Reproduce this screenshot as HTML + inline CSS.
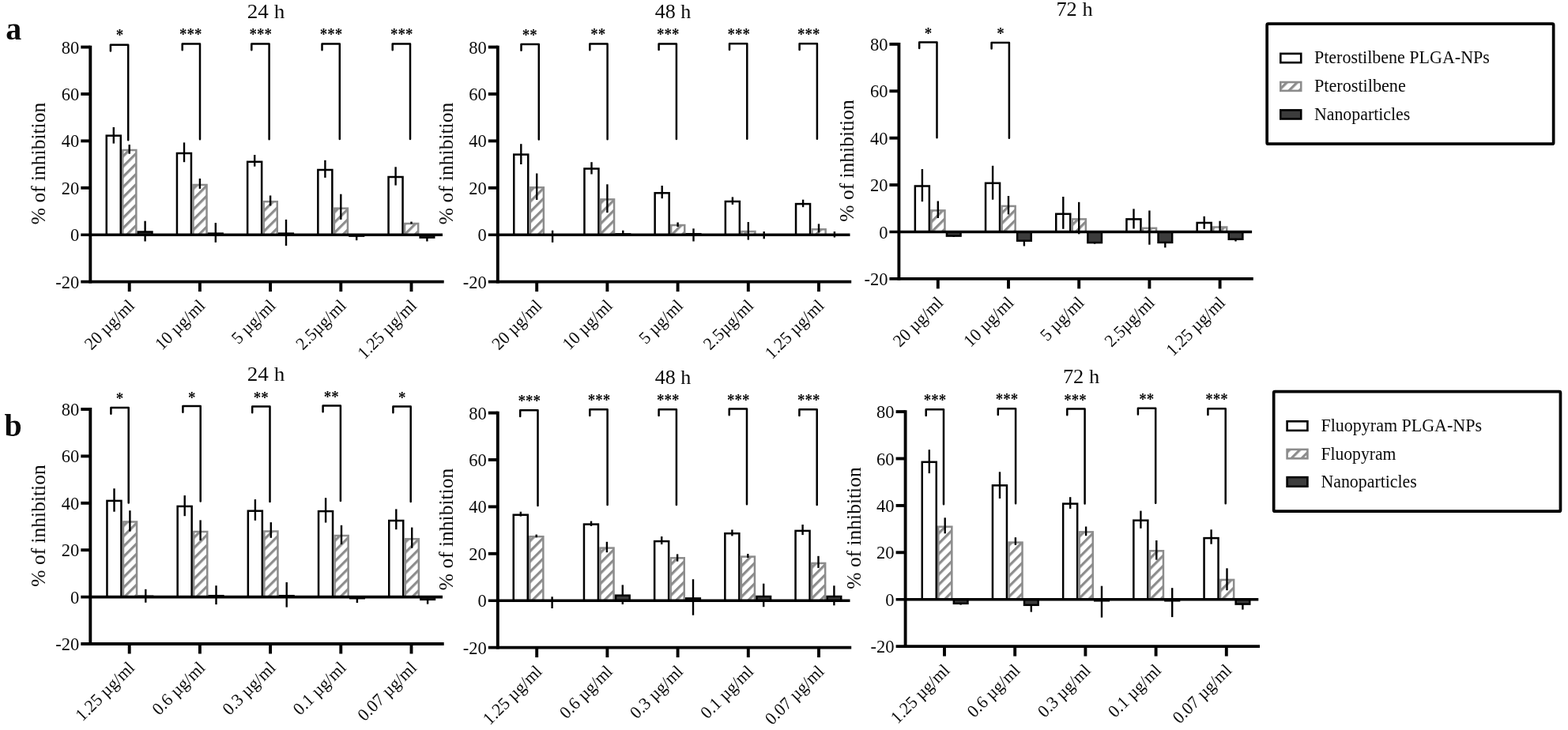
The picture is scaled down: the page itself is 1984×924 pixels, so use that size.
<!DOCTYPE html>
<html lang="en">
<head>
<meta charset="utf-8">
<title>Inhibition of Pterostilbene and Fluopyram PLGA-NPs</title>
<style>
html,body{margin:0;padding:0;background:#fff;}
body{width:1984px;height:924px;overflow:hidden;}
svg{display:block;filter:blur(0.45px);}
text{font-family:"Liberation Serif", "DejaVu Serif", serif;fill:#0a0a0a;}
</style>
</head>
<body>
<svg width="1984" height="924" viewBox="0 0 1984 924">
<defs>
<pattern id="hatch" patternUnits="userSpaceOnUse" width="9.2" height="9.2" patternTransform="rotate(-45)">
<rect x="0" y="0" width="9.2" height="9.2" fill="#fff"/>
<rect x="0" y="0" width="9.2" height="3.2" fill="#8c8c8c"/>
</pattern>
<pattern id="hatchL" patternUnits="userSpaceOnUse" width="9.2" height="9.2" patternTransform="rotate(-45)">
<rect x="0" y="0" width="9.2" height="9.2" fill="#fff"/>
<rect x="0" y="0" width="9.2" height="3.2" fill="#8c8c8c"/>
</pattern>
</defs>
<rect x="0" y="0" width="1984" height="924" fill="#fff"/>

<text x="7.2" y="50" font-size="40" font-weight="bold">a</text>
<text x="5.5" y="552" font-size="40" font-weight="bold">b</text>
<g>
<text x="336.5" y="23" font-size="25" text-anchor="middle" textLength="47.4" lengthAdjust="spacingAndGlyphs">24 h</text>
<text transform="translate(57 207) rotate(-90)" font-size="25.5" text-anchor="middle" textLength="154.4" lengthAdjust="spacingAndGlyphs">% of inhibition</text>
<rect x="134.75" y="171.7" width="18" height="125.5" fill="#fff" stroke="#000" stroke-width="2.5"/>
<line x1="143.8" y1="161" x2="143.8" y2="181.6" stroke="#000" stroke-width="2.4"/>
<rect x="155.25" y="190" width="17.1" height="107.2" fill="url(#hatch)" stroke="#8c8c8c" stroke-width="2.5"/>
<line x1="163.7" y1="183.1" x2="163.7" y2="194.7" stroke="#000" stroke-width="2.4"/>
<line x1="183.6" y1="279.7" x2="183.6" y2="305.5" stroke="#000" stroke-width="2.4"/>
<rect x="174.85" y="293.5" width="17.6" height="3.7" fill="#3c3c3c" stroke="#000" stroke-width="2.5"/>
<rect x="223.95" y="194" width="18" height="103.2" fill="#fff" stroke="#000" stroke-width="2.5"/>
<line x1="233" y1="180.4" x2="233" y2="205.2" stroke="#000" stroke-width="2.4"/>
<rect x="244.45" y="234" width="17.1" height="63.2" fill="url(#hatch)" stroke="#8c8c8c" stroke-width="2.5"/>
<line x1="252.9" y1="226" x2="252.9" y2="238.9" stroke="#000" stroke-width="2.4"/>
<line x1="272.8" y1="282.1" x2="272.8" y2="306.8" stroke="#000" stroke-width="2.4"/>
<rect x="264.05" y="295.6" width="17.6" height="1.6" fill="#3c3c3c" stroke="#000" stroke-width="2.5"/>
<rect x="313.15" y="204.8" width="18" height="92.4" fill="#fff" stroke="#000" stroke-width="2.5"/>
<line x1="322.2" y1="196" x2="322.2" y2="210.7" stroke="#000" stroke-width="2.4"/>
<rect x="333.65" y="255.2" width="17.1" height="42" fill="url(#hatch)" stroke="#8c8c8c" stroke-width="2.5"/>
<line x1="342.1" y1="247.5" x2="342.1" y2="260.4" stroke="#000" stroke-width="2.4"/>
<line x1="362" y1="277.9" x2="362" y2="311" stroke="#000" stroke-width="2.4"/>
<rect x="353.25" y="295.6" width="17.6" height="1.6" fill="#3c3c3c" stroke="#000" stroke-width="2.5"/>
<rect x="402.35" y="215" width="18" height="82.2" fill="#fff" stroke="#000" stroke-width="2.5"/>
<line x1="411.4" y1="202.8" x2="411.4" y2="224.9" stroke="#000" stroke-width="2.4"/>
<rect x="422.85" y="263.7" width="17.1" height="33.5" fill="url(#hatch)" stroke="#8c8c8c" stroke-width="2.5"/>
<line x1="431.3" y1="245.7" x2="431.3" y2="277.9" stroke="#000" stroke-width="2.4"/>
<line x1="451.2" y1="297" x2="451.2" y2="304.2" stroke="#000" stroke-width="2.4"/>
<rect x="442.45" y="297.2" width="17.6" height="1.4" fill="#3c3c3c" stroke="#000" stroke-width="2.5"/>
<rect x="491.55" y="224" width="18" height="73.2" fill="#fff" stroke="#000" stroke-width="2.5"/>
<line x1="500.6" y1="211.3" x2="500.6" y2="234.6" stroke="#000" stroke-width="2.4"/>
<rect x="512.05" y="283" width="17.1" height="14.2" fill="url(#hatch)" stroke="#8c8c8c" stroke-width="2.5"/>
<line x1="520.5" y1="280.6" x2="520.5" y2="283.4" stroke="#000" stroke-width="2.4"/>
<line x1="540.4" y1="297" x2="540.4" y2="305.5" stroke="#000" stroke-width="2.4"/>
<rect x="531.65" y="297.2" width="17.6" height="3.4" fill="#3c3c3c" stroke="#000" stroke-width="2.5"/>
<line x1="102.3" y1="297.2" x2="560" y2="297.2" stroke="#000" stroke-width="3.6"/>
<line x1="114.3" y1="57.65" x2="114.3" y2="358.55" stroke="#000" stroke-width="3.9"/>
<line x1="102.3" y1="356.6" x2="561.7" y2="356.6" stroke="#000" stroke-width="3.9"/>
<line x1="102.3" y1="59.6" x2="114.3" y2="59.6" stroke="#000" stroke-width="3.9"/>
<text x="100.3" y="67.6" font-size="24" text-anchor="end" textLength="22.5" lengthAdjust="spacingAndGlyphs">80</text>
<line x1="102.3" y1="119" x2="114.3" y2="119" stroke="#000" stroke-width="3.9"/>
<text x="100.3" y="127" font-size="24" text-anchor="end" textLength="22.5" lengthAdjust="spacingAndGlyphs">60</text>
<line x1="102.3" y1="178.4" x2="114.3" y2="178.4" stroke="#000" stroke-width="3.9"/>
<text x="100.3" y="186.4" font-size="24" text-anchor="end" textLength="22.5" lengthAdjust="spacingAndGlyphs">40</text>
<line x1="102.3" y1="237.8" x2="114.3" y2="237.8" stroke="#000" stroke-width="3.9"/>
<text x="100.3" y="245.8" font-size="24" text-anchor="end" textLength="22.5" lengthAdjust="spacingAndGlyphs">20</text>
<text x="100.3" y="305.2" font-size="24" text-anchor="end" textLength="11.25" lengthAdjust="spacingAndGlyphs">0</text>
<text x="100.3" y="364.6" font-size="24" text-anchor="end" textLength="29.99" lengthAdjust="spacingAndGlyphs">-20</text>
<line x1="163.7" y1="356.6" x2="163.7" y2="369.1" stroke="#000" stroke-width="3.9"/>
<text transform="translate(171.6 388.2) rotate(-45)" font-size="22.2" text-anchor="end" textLength="78.97" lengthAdjust="spacingAndGlyphs">20 µg/ml</text>
<line x1="252.9" y1="356.6" x2="252.9" y2="369.1" stroke="#000" stroke-width="3.9"/>
<text transform="translate(260.8 388.2) rotate(-45)" font-size="22.2" text-anchor="end" textLength="78.97" lengthAdjust="spacingAndGlyphs">10 µg/ml</text>
<line x1="342.1" y1="356.6" x2="342.1" y2="369.1" stroke="#000" stroke-width="3.9"/>
<text transform="translate(350 388.2) rotate(-45)" font-size="22.2" text-anchor="end" textLength="68.18" lengthAdjust="spacingAndGlyphs">5 µg/ml</text>
<line x1="431.3" y1="356.6" x2="431.3" y2="369.1" stroke="#000" stroke-width="3.9"/>
<text transform="translate(439.2 388.2) rotate(-45)" font-size="22.2" text-anchor="end" textLength="78.97" lengthAdjust="spacingAndGlyphs">2.5µg/ml</text>
<line x1="520.5" y1="356.6" x2="520.5" y2="369.1" stroke="#000" stroke-width="3.9"/>
<text transform="translate(528.4 388.2) rotate(-45)" font-size="22.2" text-anchor="end" textLength="95.15" lengthAdjust="spacingAndGlyphs">1.25 µg/ml</text>
<path d="M139.9 64.4V56.7H162.2V177.3" fill="none" stroke="#000" stroke-width="2.5" stroke-linejoin="round" stroke-linecap="round"/>
<text x="151.45" y="50.9" font-size="22" font-weight="bold" text-anchor="middle" textLength="9.5" lengthAdjust="spacingAndGlyphs">*</text>
<path d="M230.7 63.3V55.6H253V176.2" fill="none" stroke="#000" stroke-width="2.5" stroke-linejoin="round" stroke-linecap="round"/>
<text x="241.25" y="49.6" font-size="22" font-weight="bold" text-anchor="middle" textLength="28.5" lengthAdjust="spacingAndGlyphs">***</text>
<path d="M318.3 63.3V55.6H340.6V176.2" fill="none" stroke="#000" stroke-width="2.5" stroke-linejoin="round" stroke-linecap="round"/>
<text x="329.75" y="49.6" font-size="22" font-weight="bold" text-anchor="middle" textLength="28.5" lengthAdjust="spacingAndGlyphs">***</text>
<path d="M407.5 63.2V55.5H429.8V176.1" fill="none" stroke="#000" stroke-width="2.5" stroke-linejoin="round" stroke-linecap="round"/>
<text x="418.95" y="49.6" font-size="22" font-weight="bold" text-anchor="middle" textLength="28.5" lengthAdjust="spacingAndGlyphs">***</text>
<path d="M496.7 63.2V55.5H519V176.1" fill="none" stroke="#000" stroke-width="2.5" stroke-linejoin="round" stroke-linecap="round"/>
<text x="508.15" y="49.6" font-size="22" font-weight="bold" text-anchor="middle" textLength="28.5" lengthAdjust="spacingAndGlyphs">***</text>
</g>
<g>
<text x="851.5" y="23" font-size="25" text-anchor="middle" textLength="45.6" lengthAdjust="spacingAndGlyphs">48 h</text>
<text transform="translate(572.5 207) rotate(-90)" font-size="25.5" text-anchor="middle" textLength="154.4" lengthAdjust="spacingAndGlyphs">% of inhibition</text>
<rect x="650.25" y="195.6" width="18" height="101.6" fill="#fff" stroke="#000" stroke-width="2.5"/>
<line x1="659.3" y1="182.2" x2="659.3" y2="208" stroke="#000" stroke-width="2.4"/>
<rect x="670.75" y="237.3" width="17.1" height="59.9" fill="url(#hatch)" stroke="#8c8c8c" stroke-width="2.5"/>
<line x1="679.2" y1="219.5" x2="679.2" y2="253" stroke="#000" stroke-width="2.4"/>
<line x1="699.1" y1="291.7" x2="699.1" y2="306.8" stroke="#000" stroke-width="2.4"/>
<rect x="739.45" y="213.5" width="18" height="83.7" fill="#fff" stroke="#000" stroke-width="2.5"/>
<line x1="748.5" y1="205.2" x2="748.5" y2="220.5" stroke="#000" stroke-width="2.4"/>
<rect x="759.95" y="252.4" width="17.1" height="44.8" fill="url(#hatch)" stroke="#8c8c8c" stroke-width="2.5"/>
<line x1="768.4" y1="233.3" x2="768.4" y2="269.2" stroke="#000" stroke-width="2.4"/>
<line x1="788.3" y1="291.7" x2="788.3" y2="299" stroke="#000" stroke-width="2.4"/>
<rect x="779.55" y="296.4" width="17.6" height="0.8" fill="#3c3c3c" stroke="#000" stroke-width="2.5"/>
<rect x="828.65" y="244.3" width="18" height="52.9" fill="#fff" stroke="#000" stroke-width="2.5"/>
<line x1="837.7" y1="235" x2="837.7" y2="251.2" stroke="#000" stroke-width="2.4"/>
<rect x="849.15" y="285" width="17.1" height="12.2" fill="url(#hatch)" stroke="#8c8c8c" stroke-width="2.5"/>
<line x1="857.6" y1="281.5" x2="857.6" y2="287" stroke="#000" stroke-width="2.4"/>
<line x1="877.5" y1="289.3" x2="877.5" y2="305.5" stroke="#000" stroke-width="2.4"/>
<rect x="868.75" y="296.2" width="17.6" height="1" fill="#3c3c3c" stroke="#000" stroke-width="2.5"/>
<rect x="917.85" y="255" width="18" height="42.2" fill="#fff" stroke="#000" stroke-width="2.5"/>
<line x1="926.9" y1="249.4" x2="926.9" y2="258.9" stroke="#000" stroke-width="2.4"/>
<rect x="938.35" y="293" width="17.1" height="4.2" fill="url(#hatch)" stroke="#8c8c8c" stroke-width="2.5"/>
<line x1="946.8" y1="281" x2="946.8" y2="303.6" stroke="#000" stroke-width="2.4"/>
<line x1="966.7" y1="293" x2="966.7" y2="302.3" stroke="#000" stroke-width="2.4"/>
<rect x="1007.05" y="258.1" width="18" height="39.1" fill="#fff" stroke="#000" stroke-width="2.5"/>
<line x1="1016.1" y1="252.7" x2="1016.1" y2="262.2" stroke="#000" stroke-width="2.4"/>
<rect x="1027.55" y="290.3" width="17.1" height="6.9" fill="url(#hatch)" stroke="#8c8c8c" stroke-width="2.5"/>
<line x1="1036" y1="283.4" x2="1036" y2="294.4" stroke="#000" stroke-width="2.4"/>
<line x1="1055.9" y1="293" x2="1055.9" y2="300.5" stroke="#000" stroke-width="2.4"/>
<line x1="617.8" y1="297.2" x2="1075.5" y2="297.2" stroke="#000" stroke-width="3.6"/>
<line x1="629.8" y1="57.65" x2="629.8" y2="358.55" stroke="#000" stroke-width="3.9"/>
<line x1="617.8" y1="356.6" x2="1077.2" y2="356.6" stroke="#000" stroke-width="3.9"/>
<line x1="617.8" y1="59.6" x2="629.8" y2="59.6" stroke="#000" stroke-width="3.9"/>
<text x="615.8" y="67.6" font-size="24" text-anchor="end" textLength="22.5" lengthAdjust="spacingAndGlyphs">80</text>
<line x1="617.8" y1="119" x2="629.8" y2="119" stroke="#000" stroke-width="3.9"/>
<text x="615.8" y="127" font-size="24" text-anchor="end" textLength="22.5" lengthAdjust="spacingAndGlyphs">60</text>
<line x1="617.8" y1="178.4" x2="629.8" y2="178.4" stroke="#000" stroke-width="3.9"/>
<text x="615.8" y="186.4" font-size="24" text-anchor="end" textLength="22.5" lengthAdjust="spacingAndGlyphs">40</text>
<line x1="617.8" y1="237.8" x2="629.8" y2="237.8" stroke="#000" stroke-width="3.9"/>
<text x="615.8" y="245.8" font-size="24" text-anchor="end" textLength="22.5" lengthAdjust="spacingAndGlyphs">20</text>
<text x="615.8" y="305.2" font-size="24" text-anchor="end" textLength="11.25" lengthAdjust="spacingAndGlyphs">0</text>
<text x="615.8" y="364.6" font-size="24" text-anchor="end" textLength="29.99" lengthAdjust="spacingAndGlyphs">-20</text>
<line x1="679.2" y1="356.6" x2="679.2" y2="369.1" stroke="#000" stroke-width="3.9"/>
<text transform="translate(687.1 388.2) rotate(-45)" font-size="22.2" text-anchor="end" textLength="78.97" lengthAdjust="spacingAndGlyphs">20 µg/ml</text>
<line x1="768.4" y1="356.6" x2="768.4" y2="369.1" stroke="#000" stroke-width="3.9"/>
<text transform="translate(776.3 388.2) rotate(-45)" font-size="22.2" text-anchor="end" textLength="78.97" lengthAdjust="spacingAndGlyphs">10 µg/ml</text>
<line x1="857.6" y1="356.6" x2="857.6" y2="369.1" stroke="#000" stroke-width="3.9"/>
<text transform="translate(865.5 388.2) rotate(-45)" font-size="22.2" text-anchor="end" textLength="68.18" lengthAdjust="spacingAndGlyphs">5 µg/ml</text>
<line x1="946.8" y1="356.6" x2="946.8" y2="369.1" stroke="#000" stroke-width="3.9"/>
<text transform="translate(954.7 388.2) rotate(-45)" font-size="22.2" text-anchor="end" textLength="78.97" lengthAdjust="spacingAndGlyphs">2.5µg/ml</text>
<line x1="1036" y1="356.6" x2="1036" y2="369.1" stroke="#000" stroke-width="3.9"/>
<text transform="translate(1043.9 388.2) rotate(-45)" font-size="22.2" text-anchor="end" textLength="95.15" lengthAdjust="spacingAndGlyphs">1.25 µg/ml</text>
<path d="M659.5 63.7V56H681.8V176.6" fill="none" stroke="#000" stroke-width="2.5" stroke-linejoin="round" stroke-linecap="round"/>
<text x="670.35" y="50.7" font-size="22" font-weight="bold" text-anchor="middle" textLength="19" lengthAdjust="spacingAndGlyphs">**</text>
<path d="M746.3 63.3V55.6H768.6V176.2" fill="none" stroke="#000" stroke-width="2.5" stroke-linejoin="round" stroke-linecap="round"/>
<text x="756.85" y="50.1" font-size="22" font-weight="bold" text-anchor="middle" textLength="19" lengthAdjust="spacingAndGlyphs">**</text>
<path d="M833.6 63.1V55.4H855.9V176" fill="none" stroke="#000" stroke-width="2.5" stroke-linejoin="round" stroke-linecap="round"/>
<text x="845.35" y="49.8" font-size="22" font-weight="bold" text-anchor="middle" textLength="28.5" lengthAdjust="spacingAndGlyphs">***</text>
<path d="M923 62.9V55.2H945.3V175.8" fill="none" stroke="#000" stroke-width="2.5" stroke-linejoin="round" stroke-linecap="round"/>
<text x="934.75" y="49.8" font-size="22" font-weight="bold" text-anchor="middle" textLength="28.5" lengthAdjust="spacingAndGlyphs">***</text>
<path d="M1011.6 62.9V55.2H1033.9V175.8" fill="none" stroke="#000" stroke-width="2.5" stroke-linejoin="round" stroke-linecap="round"/>
<text x="1023.35" y="49.8" font-size="22" font-weight="bold" text-anchor="middle" textLength="28.5" lengthAdjust="spacingAndGlyphs">***</text>
</g>
<g>
<text x="1359.5" y="20" font-size="25" text-anchor="middle" textLength="46.2" lengthAdjust="spacingAndGlyphs">72 h</text>
<text transform="translate(1080 203.5) rotate(-90)" font-size="25.5" text-anchor="middle" textLength="154.4" lengthAdjust="spacingAndGlyphs">% of inhibition</text>
<rect x="1157.85" y="235.5" width="18" height="58" fill="#fff" stroke="#000" stroke-width="2.5"/>
<line x1="1166.9" y1="214" x2="1166.9" y2="255.2" stroke="#000" stroke-width="2.4"/>
<rect x="1178.35" y="266.4" width="17.1" height="27.1" fill="url(#hatch)" stroke="#8c8c8c" stroke-width="2.5"/>
<line x1="1186.8" y1="254.5" x2="1186.8" y2="276" stroke="#000" stroke-width="2.4"/>
<line x1="1206.7" y1="297" x2="1206.7" y2="300" stroke="#000" stroke-width="2.4"/>
<rect x="1197.95" y="293.5" width="17.6" height="5.1" fill="#3c3c3c" stroke="#000" stroke-width="2.5"/>
<rect x="1247.05" y="231.8" width="18" height="61.7" fill="#fff" stroke="#000" stroke-width="2.5"/>
<line x1="1256.1" y1="209.8" x2="1256.1" y2="252.7" stroke="#000" stroke-width="2.4"/>
<rect x="1267.55" y="260.9" width="17.1" height="32.6" fill="url(#hatch)" stroke="#8c8c8c" stroke-width="2.5"/>
<line x1="1276" y1="248" x2="1276" y2="271.4" stroke="#000" stroke-width="2.4"/>
<line x1="1295.9" y1="297" x2="1295.9" y2="311.5" stroke="#000" stroke-width="2.4"/>
<rect x="1287.15" y="293.5" width="17.6" height="11.2" fill="#3c3c3c" stroke="#000" stroke-width="2.5"/>
<rect x="1336.25" y="270.8" width="18" height="22.7" fill="#fff" stroke="#000" stroke-width="2.5"/>
<line x1="1345.3" y1="249" x2="1345.3" y2="289.8" stroke="#000" stroke-width="2.4"/>
<rect x="1356.75" y="277.4" width="17.1" height="16.1" fill="url(#hatch)" stroke="#8c8c8c" stroke-width="2.5"/>
<line x1="1365.2" y1="255.8" x2="1365.2" y2="296.3" stroke="#000" stroke-width="2.4"/>
<line x1="1385.1" y1="306" x2="1385.1" y2="308.6" stroke="#000" stroke-width="2.4"/>
<rect x="1376.35" y="293.5" width="17.6" height="13.6" fill="#3c3c3c" stroke="#000" stroke-width="2.5"/>
<rect x="1425.45" y="277.4" width="18" height="16.1" fill="#fff" stroke="#000" stroke-width="2.5"/>
<line x1="1434.5" y1="264.4" x2="1434.5" y2="289.5" stroke="#000" stroke-width="2.4"/>
<rect x="1445.95" y="288.8" width="17.1" height="4.7" fill="url(#hatch)" stroke="#8c8c8c" stroke-width="2.5"/>
<line x1="1454.4" y1="266.5" x2="1454.4" y2="309.7" stroke="#000" stroke-width="2.4"/>
<line x1="1474.3" y1="300" x2="1474.3" y2="313.4" stroke="#000" stroke-width="2.4"/>
<rect x="1465.55" y="293.5" width="17.6" height="13.4" fill="#3c3c3c" stroke="#000" stroke-width="2.5"/>
<rect x="1514.65" y="282" width="18" height="11.5" fill="#fff" stroke="#000" stroke-width="2.5"/>
<line x1="1523.7" y1="273.8" x2="1523.7" y2="289.8" stroke="#000" stroke-width="2.4"/>
<rect x="1535.15" y="287.5" width="17.1" height="6" fill="url(#hatch)" stroke="#8c8c8c" stroke-width="2.5"/>
<line x1="1543.6" y1="279.7" x2="1543.6" y2="294.4" stroke="#000" stroke-width="2.4"/>
<line x1="1563.5" y1="300" x2="1563.5" y2="305.5" stroke="#000" stroke-width="2.4"/>
<rect x="1554.75" y="293.5" width="17.6" height="9.3" fill="#3c3c3c" stroke="#000" stroke-width="2.5"/>
<line x1="1125.4" y1="293.5" x2="1584.1" y2="293.5" stroke="#000" stroke-width="3.6"/>
<line x1="1137.4" y1="53.95" x2="1137.4" y2="354.85" stroke="#000" stroke-width="3.9"/>
<line x1="1125.4" y1="352.9" x2="1585.8" y2="352.9" stroke="#000" stroke-width="3.9"/>
<line x1="1125.4" y1="55.9" x2="1137.4" y2="55.9" stroke="#000" stroke-width="3.9"/>
<text x="1123.4" y="63.9" font-size="24" text-anchor="end" textLength="22.5" lengthAdjust="spacingAndGlyphs">80</text>
<line x1="1125.4" y1="115.3" x2="1137.4" y2="115.3" stroke="#000" stroke-width="3.9"/>
<text x="1123.4" y="123.3" font-size="24" text-anchor="end" textLength="22.5" lengthAdjust="spacingAndGlyphs">60</text>
<line x1="1125.4" y1="174.7" x2="1137.4" y2="174.7" stroke="#000" stroke-width="3.9"/>
<text x="1123.4" y="182.7" font-size="24" text-anchor="end" textLength="22.5" lengthAdjust="spacingAndGlyphs">40</text>
<line x1="1125.4" y1="234.1" x2="1137.4" y2="234.1" stroke="#000" stroke-width="3.9"/>
<text x="1123.4" y="242.1" font-size="24" text-anchor="end" textLength="22.5" lengthAdjust="spacingAndGlyphs">20</text>
<text x="1123.4" y="301.5" font-size="24" text-anchor="end" textLength="11.25" lengthAdjust="spacingAndGlyphs">0</text>
<text x="1123.4" y="360.9" font-size="24" text-anchor="end" textLength="29.99" lengthAdjust="spacingAndGlyphs">-20</text>
<line x1="1186.8" y1="352.9" x2="1186.8" y2="365.4" stroke="#000" stroke-width="3.9"/>
<text transform="translate(1194.7 384.5) rotate(-45)" font-size="22.2" text-anchor="end" textLength="78.97" lengthAdjust="spacingAndGlyphs">20 µg/ml</text>
<line x1="1276" y1="352.9" x2="1276" y2="365.4" stroke="#000" stroke-width="3.9"/>
<text transform="translate(1283.9 384.5) rotate(-45)" font-size="22.2" text-anchor="end" textLength="78.97" lengthAdjust="spacingAndGlyphs">10 µg/ml</text>
<line x1="1365.2" y1="352.9" x2="1365.2" y2="365.4" stroke="#000" stroke-width="3.9"/>
<text transform="translate(1373.1 384.5) rotate(-45)" font-size="22.2" text-anchor="end" textLength="68.18" lengthAdjust="spacingAndGlyphs">5 µg/ml</text>
<line x1="1454.4" y1="352.9" x2="1454.4" y2="365.4" stroke="#000" stroke-width="3.9"/>
<text transform="translate(1462.3 384.5) rotate(-45)" font-size="22.2" text-anchor="end" textLength="78.97" lengthAdjust="spacingAndGlyphs">2.5µg/ml</text>
<line x1="1543.6" y1="352.9" x2="1543.6" y2="365.4" stroke="#000" stroke-width="3.9"/>
<text transform="translate(1551.5 384.5) rotate(-45)" font-size="22.2" text-anchor="end" textLength="95.15" lengthAdjust="spacingAndGlyphs">1.25 µg/ml</text>
<path d="M1163.2 61.1V53.4H1185.5V174.2" fill="none" stroke="#000" stroke-width="2.5" stroke-linejoin="round" stroke-linecap="round"/>
<text x="1174.55" y="48.5" font-size="22" font-weight="bold" text-anchor="middle" textLength="9.5" lengthAdjust="spacingAndGlyphs">*</text>
<path d="M1254.6 61.6V53.9H1276.9V174.7" fill="none" stroke="#000" stroke-width="2.5" stroke-linejoin="round" stroke-linecap="round"/>
<text x="1266.05" y="48.5" font-size="22" font-weight="bold" text-anchor="middle" textLength="9.5" lengthAdjust="spacingAndGlyphs">*</text>
</g>
<g>
<text x="336.5" y="482" font-size="25" text-anchor="middle" textLength="47.4" lengthAdjust="spacingAndGlyphs">24 h</text>
<text transform="translate(57 665.5) rotate(-90)" font-size="25.5" text-anchor="middle" textLength="154.4" lengthAdjust="spacingAndGlyphs">% of inhibition</text>
<rect x="135.45" y="633.9" width="18" height="121.7" fill="#fff" stroke="#000" stroke-width="2.5"/>
<line x1="144.5" y1="618.3" x2="144.5" y2="647.7" stroke="#000" stroke-width="2.4"/>
<rect x="155.95" y="660.5" width="17.1" height="95.1" fill="url(#hatch)" stroke="#8c8c8c" stroke-width="2.5"/>
<line x1="164.4" y1="646.2" x2="164.4" y2="672.6" stroke="#000" stroke-width="2.4"/>
<line x1="184.3" y1="745.8" x2="184.3" y2="762.7" stroke="#000" stroke-width="2.4"/>
<rect x="175.55" y="754.8" width="17.6" height="0.8" fill="#3c3c3c" stroke="#000" stroke-width="2.5"/>
<rect x="224.65" y="640.9" width="18" height="114.7" fill="#fff" stroke="#000" stroke-width="2.5"/>
<line x1="233.7" y1="627.1" x2="233.7" y2="653.2" stroke="#000" stroke-width="2.4"/>
<rect x="245.15" y="673" width="17.1" height="82.6" fill="url(#hatch)" stroke="#8c8c8c" stroke-width="2.5"/>
<line x1="253.6" y1="658.4" x2="253.6" y2="684.1" stroke="#000" stroke-width="2.4"/>
<line x1="273.5" y1="741.2" x2="273.5" y2="765.1" stroke="#000" stroke-width="2.4"/>
<rect x="264.75" y="754.2" width="17.6" height="1.4" fill="#3c3c3c" stroke="#000" stroke-width="2.5"/>
<rect x="313.85" y="646.7" width="18" height="108.9" fill="#fff" stroke="#000" stroke-width="2.5"/>
<line x1="322.9" y1="632.1" x2="322.9" y2="658.8" stroke="#000" stroke-width="2.4"/>
<rect x="334.35" y="672.5" width="17.1" height="83.1" fill="url(#hatch)" stroke="#8c8c8c" stroke-width="2.5"/>
<line x1="342.8" y1="661.1" x2="342.8" y2="680.8" stroke="#000" stroke-width="2.4"/>
<line x1="362.7" y1="737" x2="362.7" y2="768.6" stroke="#000" stroke-width="2.4"/>
<rect x="353.95" y="754.2" width="17.6" height="1.4" fill="#3c3c3c" stroke="#000" stroke-width="2.5"/>
<rect x="403.05" y="647.1" width="18" height="108.5" fill="#fff" stroke="#000" stroke-width="2.5"/>
<line x1="412.1" y1="630.2" x2="412.1" y2="661.5" stroke="#000" stroke-width="2.4"/>
<rect x="423.55" y="678" width="17.1" height="77.6" fill="url(#hatch)" stroke="#8c8c8c" stroke-width="2.5"/>
<line x1="432" y1="664.8" x2="432" y2="689.1" stroke="#000" stroke-width="2.4"/>
<line x1="451.9" y1="755" x2="451.9" y2="763" stroke="#000" stroke-width="2.4"/>
<rect x="443.15" y="755.6" width="17.6" height="1.6" fill="#3c3c3c" stroke="#000" stroke-width="2.5"/>
<rect x="492.25" y="659" width="18" height="96.6" fill="#fff" stroke="#000" stroke-width="2.5"/>
<line x1="501.3" y1="644.4" x2="501.3" y2="670.2" stroke="#000" stroke-width="2.4"/>
<rect x="512.75" y="682.2" width="17.1" height="73.4" fill="url(#hatch)" stroke="#8c8c8c" stroke-width="2.5"/>
<line x1="521.2" y1="667.6" x2="521.2" y2="693.7" stroke="#000" stroke-width="2.4"/>
<line x1="541.1" y1="755" x2="541.1" y2="764.6" stroke="#000" stroke-width="2.4"/>
<rect x="532.35" y="755.6" width="17.6" height="3.2" fill="#3c3c3c" stroke="#000" stroke-width="2.5"/>
<line x1="102.3" y1="755.6" x2="560" y2="755.6" stroke="#000" stroke-width="3.6"/>
<line x1="114.3" y1="516.05" x2="114.3" y2="816.95" stroke="#000" stroke-width="3.9"/>
<line x1="102.3" y1="815" x2="561.7" y2="815" stroke="#000" stroke-width="3.9"/>
<line x1="102.3" y1="518" x2="114.3" y2="518" stroke="#000" stroke-width="3.9"/>
<text x="100.3" y="526" font-size="24" text-anchor="end" textLength="22.5" lengthAdjust="spacingAndGlyphs">80</text>
<line x1="102.3" y1="577.4" x2="114.3" y2="577.4" stroke="#000" stroke-width="3.9"/>
<text x="100.3" y="585.4" font-size="24" text-anchor="end" textLength="22.5" lengthAdjust="spacingAndGlyphs">60</text>
<line x1="102.3" y1="636.8" x2="114.3" y2="636.8" stroke="#000" stroke-width="3.9"/>
<text x="100.3" y="644.8" font-size="24" text-anchor="end" textLength="22.5" lengthAdjust="spacingAndGlyphs">40</text>
<line x1="102.3" y1="696.2" x2="114.3" y2="696.2" stroke="#000" stroke-width="3.9"/>
<text x="100.3" y="704.2" font-size="24" text-anchor="end" textLength="22.5" lengthAdjust="spacingAndGlyphs">20</text>
<text x="100.3" y="763.6" font-size="24" text-anchor="end" textLength="11.25" lengthAdjust="spacingAndGlyphs">0</text>
<text x="100.3" y="823" font-size="24" text-anchor="end" textLength="29.99" lengthAdjust="spacingAndGlyphs">-20</text>
<line x1="163.7" y1="815" x2="163.7" y2="827.5" stroke="#000" stroke-width="3.9"/>
<text transform="translate(171.6 846.6) rotate(-45)" font-size="22.2" text-anchor="end" textLength="95.15" lengthAdjust="spacingAndGlyphs">1.25 µg/ml</text>
<line x1="252.9" y1="815" x2="252.9" y2="827.5" stroke="#000" stroke-width="3.9"/>
<text transform="translate(260.8 846.6) rotate(-45)" font-size="22.2" text-anchor="end" textLength="84.36" lengthAdjust="spacingAndGlyphs">0.6 µg/ml</text>
<line x1="342.1" y1="815" x2="342.1" y2="827.5" stroke="#000" stroke-width="3.9"/>
<text transform="translate(350 846.6) rotate(-45)" font-size="22.2" text-anchor="end" textLength="84.36" lengthAdjust="spacingAndGlyphs">0.3 µg/ml</text>
<line x1="431.3" y1="815" x2="431.3" y2="827.5" stroke="#000" stroke-width="3.9"/>
<text transform="translate(439.2 846.6) rotate(-45)" font-size="22.2" text-anchor="end" textLength="84.36" lengthAdjust="spacingAndGlyphs">0.1 µg/ml</text>
<line x1="520.5" y1="815" x2="520.5" y2="827.5" stroke="#000" stroke-width="3.9"/>
<text transform="translate(528.4 846.6) rotate(-45)" font-size="22.2" text-anchor="end" textLength="95.15" lengthAdjust="spacingAndGlyphs">0.07 µg/ml</text>
<path d="M140.4 523.7V516H162.7V636.4" fill="none" stroke="#000" stroke-width="2.5" stroke-linejoin="round" stroke-linecap="round"/>
<text x="151.45" y="510.7" font-size="22" font-weight="bold" text-anchor="middle" textLength="9.5" lengthAdjust="spacingAndGlyphs">*</text>
<path d="M231.4 521.8V514.1H253.7V634.5" fill="none" stroke="#000" stroke-width="2.5" stroke-linejoin="round" stroke-linecap="round"/>
<text x="242.65" y="509.6" font-size="22" font-weight="bold" text-anchor="middle" textLength="9.5" lengthAdjust="spacingAndGlyphs">*</text>
<path d="M319.2 522.2V514.5H341.5V634.9" fill="none" stroke="#000" stroke-width="2.5" stroke-linejoin="round" stroke-linecap="round"/>
<text x="330.15" y="509.6" font-size="22" font-weight="bold" text-anchor="middle" textLength="19" lengthAdjust="spacingAndGlyphs">**</text>
<path d="M408.6 521.3V513.6H430.9V634" fill="none" stroke="#000" stroke-width="2.5" stroke-linejoin="round" stroke-linecap="round"/>
<text x="419.35" y="508.9" font-size="22" font-weight="bold" text-anchor="middle" textLength="19" lengthAdjust="spacingAndGlyphs">**</text>
<path d="M497.4 522.2V514.5H519.7V634.9" fill="none" stroke="#000" stroke-width="2.5" stroke-linejoin="round" stroke-linecap="round"/>
<text x="508.75" y="509.6" font-size="22" font-weight="bold" text-anchor="middle" textLength="9.5" lengthAdjust="spacingAndGlyphs">*</text>
</g>
<g>
<text x="851.5" y="486" font-size="25" text-anchor="middle" textLength="45.6" lengthAdjust="spacingAndGlyphs">48 h</text>
<text transform="translate(572.5 670) rotate(-90)" font-size="25.5" text-anchor="middle" textLength="154.4" lengthAdjust="spacingAndGlyphs">% of inhibition</text>
<rect x="649.75" y="651.7" width="18" height="108.5" fill="#fff" stroke="#000" stroke-width="2.5"/>
<line x1="658.8" y1="647.7" x2="658.8" y2="653.6" stroke="#000" stroke-width="2.4"/>
<rect x="670.25" y="679.2" width="17.1" height="81" fill="url(#hatch)" stroke="#8c8c8c" stroke-width="2.5"/>
<line x1="678.7" y1="676.6" x2="678.7" y2="680.2" stroke="#000" stroke-width="2.4"/>
<line x1="698.6" y1="755.3" x2="698.6" y2="770" stroke="#000" stroke-width="2.4"/>
<rect x="738.95" y="663.6" width="18" height="96.6" fill="#fff" stroke="#000" stroke-width="2.5"/>
<line x1="748" y1="659.6" x2="748" y2="665.9" stroke="#000" stroke-width="2.4"/>
<rect x="759.45" y="693.6" width="17.1" height="66.6" fill="url(#hatch)" stroke="#8c8c8c" stroke-width="2.5"/>
<line x1="767.9" y1="685.8" x2="767.9" y2="699.2" stroke="#000" stroke-width="2.4"/>
<line x1="787.8" y1="740.4" x2="787.8" y2="764.9" stroke="#000" stroke-width="2.4"/>
<rect x="779.05" y="753.7" width="17.6" height="6.5" fill="#3c3c3c" stroke="#000" stroke-width="2.5"/>
<rect x="828.15" y="685.1" width="18" height="75.1" fill="#fff" stroke="#000" stroke-width="2.5"/>
<line x1="837.2" y1="679" x2="837.2" y2="689.1" stroke="#000" stroke-width="2.4"/>
<rect x="848.65" y="706.3" width="17.1" height="53.9" fill="url(#hatch)" stroke="#8c8c8c" stroke-width="2.5"/>
<line x1="857.1" y1="701.4" x2="857.1" y2="710.6" stroke="#000" stroke-width="2.4"/>
<line x1="877" y1="733.2" x2="877" y2="778.7" stroke="#000" stroke-width="2.4"/>
<rect x="868.25" y="757.4" width="17.6" height="2.8" fill="#3c3c3c" stroke="#000" stroke-width="2.5"/>
<rect x="917.35" y="675.2" width="18" height="85" fill="#fff" stroke="#000" stroke-width="2.5"/>
<line x1="926.4" y1="670.5" x2="926.4" y2="678.4" stroke="#000" stroke-width="2.4"/>
<rect x="937.85" y="704.6" width="17.1" height="55.6" fill="url(#hatch)" stroke="#8c8c8c" stroke-width="2.5"/>
<line x1="946.3" y1="701" x2="946.3" y2="706" stroke="#000" stroke-width="2.4"/>
<line x1="966.2" y1="738.7" x2="966.2" y2="768.2" stroke="#000" stroke-width="2.4"/>
<rect x="957.45" y="755" width="17.6" height="5.2" fill="#3c3c3c" stroke="#000" stroke-width="2.5"/>
<rect x="1006.55" y="671.9" width="18" height="88.3" fill="#fff" stroke="#000" stroke-width="2.5"/>
<line x1="1015.6" y1="664" x2="1015.6" y2="677.1" stroke="#000" stroke-width="2.4"/>
<rect x="1027.05" y="712.9" width="17.1" height="47.3" fill="url(#hatch)" stroke="#8c8c8c" stroke-width="2.5"/>
<line x1="1035.5" y1="703.8" x2="1035.5" y2="718.9" stroke="#000" stroke-width="2.4"/>
<line x1="1055.4" y1="741.3" x2="1055.4" y2="766.3" stroke="#000" stroke-width="2.4"/>
<rect x="1046.65" y="755" width="17.6" height="5.2" fill="#3c3c3c" stroke="#000" stroke-width="2.5"/>
<line x1="617.8" y1="760.2" x2="1075.5" y2="760.2" stroke="#000" stroke-width="3.6"/>
<line x1="629.8" y1="520.65" x2="629.8" y2="821.55" stroke="#000" stroke-width="3.9"/>
<line x1="617.8" y1="819.6" x2="1077.2" y2="819.6" stroke="#000" stroke-width="3.9"/>
<line x1="617.8" y1="522.6" x2="629.8" y2="522.6" stroke="#000" stroke-width="3.9"/>
<text x="615.8" y="530.6" font-size="24" text-anchor="end" textLength="22.5" lengthAdjust="spacingAndGlyphs">80</text>
<line x1="617.8" y1="582" x2="629.8" y2="582" stroke="#000" stroke-width="3.9"/>
<text x="615.8" y="590" font-size="24" text-anchor="end" textLength="22.5" lengthAdjust="spacingAndGlyphs">60</text>
<line x1="617.8" y1="641.4" x2="629.8" y2="641.4" stroke="#000" stroke-width="3.9"/>
<text x="615.8" y="649.4" font-size="24" text-anchor="end" textLength="22.5" lengthAdjust="spacingAndGlyphs">40</text>
<line x1="617.8" y1="700.8" x2="629.8" y2="700.8" stroke="#000" stroke-width="3.9"/>
<text x="615.8" y="708.8" font-size="24" text-anchor="end" textLength="22.5" lengthAdjust="spacingAndGlyphs">20</text>
<text x="615.8" y="768.2" font-size="24" text-anchor="end" textLength="11.25" lengthAdjust="spacingAndGlyphs">0</text>
<text x="615.8" y="827.6" font-size="24" text-anchor="end" textLength="29.99" lengthAdjust="spacingAndGlyphs">-20</text>
<line x1="679.2" y1="819.6" x2="679.2" y2="832.1" stroke="#000" stroke-width="3.9"/>
<text transform="translate(687.1 851.2) rotate(-45)" font-size="22.2" text-anchor="end" textLength="95.15" lengthAdjust="spacingAndGlyphs">1.25 µg/ml</text>
<line x1="768.4" y1="819.6" x2="768.4" y2="832.1" stroke="#000" stroke-width="3.9"/>
<text transform="translate(776.3 851.2) rotate(-45)" font-size="22.2" text-anchor="end" textLength="84.36" lengthAdjust="spacingAndGlyphs">0.6 µg/ml</text>
<line x1="857.6" y1="819.6" x2="857.6" y2="832.1" stroke="#000" stroke-width="3.9"/>
<text transform="translate(865.5 851.2) rotate(-45)" font-size="22.2" text-anchor="end" textLength="84.36" lengthAdjust="spacingAndGlyphs">0.3 µg/ml</text>
<line x1="946.8" y1="819.6" x2="946.8" y2="832.1" stroke="#000" stroke-width="3.9"/>
<text transform="translate(954.7 851.2) rotate(-45)" font-size="22.2" text-anchor="end" textLength="84.36" lengthAdjust="spacingAndGlyphs">0.1 µg/ml</text>
<line x1="1036" y1="819.6" x2="1036" y2="832.1" stroke="#000" stroke-width="3.9"/>
<text transform="translate(1043.9 851.2) rotate(-45)" font-size="22.2" text-anchor="end" textLength="95.15" lengthAdjust="spacingAndGlyphs">0.07 µg/ml</text>
<path d="M658.2 527V519.3H680.5V640" fill="none" stroke="#000" stroke-width="2.5" stroke-linejoin="round" stroke-linecap="round"/>
<text x="669.85" y="513.5" font-size="22" font-weight="bold" text-anchor="middle" textLength="28.5" lengthAdjust="spacingAndGlyphs">***</text>
<path d="M746.3 525.9V518.2H768.6V638.9" fill="none" stroke="#000" stroke-width="2.5" stroke-linejoin="round" stroke-linecap="round"/>
<text x="757.95" y="512.9" font-size="22" font-weight="bold" text-anchor="middle" textLength="28.5" lengthAdjust="spacingAndGlyphs">***</text>
<path d="M833.6 525.9V518.2H855.9V638.9" fill="none" stroke="#000" stroke-width="2.5" stroke-linejoin="round" stroke-linecap="round"/>
<text x="845.35" y="512.9" font-size="22" font-weight="bold" text-anchor="middle" textLength="28.5" lengthAdjust="spacingAndGlyphs">***</text>
<path d="M922.7 525.2V517.5H945V638.2" fill="none" stroke="#000" stroke-width="2.5" stroke-linejoin="round" stroke-linecap="round"/>
<text x="934.35" y="512.9" font-size="22" font-weight="bold" text-anchor="middle" textLength="28.5" lengthAdjust="spacingAndGlyphs">***</text>
<path d="M1011.4 525.9V518.2H1033.7V638.9" fill="none" stroke="#000" stroke-width="2.5" stroke-linejoin="round" stroke-linecap="round"/>
<text x="1023.35" y="512.9" font-size="22" font-weight="bold" text-anchor="middle" textLength="28.5" lengthAdjust="spacingAndGlyphs">***</text>
</g>
<g>
<text x="1368" y="484.5" font-size="25" text-anchor="middle" textLength="46.2" lengthAdjust="spacingAndGlyphs">72 h</text>
<text transform="translate(1088.5 668.5) rotate(-90)" font-size="25.5" text-anchor="middle" textLength="154.4" lengthAdjust="spacingAndGlyphs">% of inhibition</text>
<rect x="1166.75" y="584.8" width="18" height="173.9" fill="#fff" stroke="#000" stroke-width="2.5"/>
<line x1="1175.8" y1="569.2" x2="1175.8" y2="599.1" stroke="#000" stroke-width="2.4"/>
<rect x="1187.25" y="666.7" width="17.1" height="92" fill="url(#hatch)" stroke="#8c8c8c" stroke-width="2.5"/>
<line x1="1195.7" y1="655.3" x2="1195.7" y2="675.3" stroke="#000" stroke-width="2.4"/>
<line x1="1215.6" y1="762" x2="1215.6" y2="765.6" stroke="#000" stroke-width="2.4"/>
<rect x="1206.85" y="758.7" width="17.6" height="5.1" fill="#3c3c3c" stroke="#000" stroke-width="2.5"/>
<rect x="1255.95" y="614.4" width="18" height="144.3" fill="#fff" stroke="#000" stroke-width="2.5"/>
<line x1="1265" y1="597.3" x2="1265" y2="631" stroke="#000" stroke-width="2.4"/>
<rect x="1276.45" y="686.6" width="17.1" height="72.1" fill="url(#hatch)" stroke="#8c8c8c" stroke-width="2.5"/>
<line x1="1284.9" y1="680.2" x2="1284.9" y2="690" stroke="#000" stroke-width="2.4"/>
<line x1="1304.8" y1="760" x2="1304.8" y2="774.6" stroke="#000" stroke-width="2.4"/>
<rect x="1296.05" y="758.7" width="17.6" height="7.1" fill="#3c3c3c" stroke="#000" stroke-width="2.5"/>
<rect x="1345.15" y="637.6" width="18" height="121.1" fill="#fff" stroke="#000" stroke-width="2.5"/>
<line x1="1354.2" y1="629.2" x2="1354.2" y2="643.9" stroke="#000" stroke-width="2.4"/>
<rect x="1365.65" y="673.4" width="17.1" height="85.3" fill="url(#hatch)" stroke="#8c8c8c" stroke-width="2.5"/>
<line x1="1374.1" y1="666.5" x2="1374.1" y2="678.2" stroke="#000" stroke-width="2.4"/>
<line x1="1394" y1="741.7" x2="1394" y2="781.6" stroke="#000" stroke-width="2.4"/>
<rect x="1385.25" y="758.7" width="17.6" height="1.6" fill="#3c3c3c" stroke="#000" stroke-width="2.5"/>
<rect x="1434.35" y="658.7" width="18" height="100" fill="#fff" stroke="#000" stroke-width="2.5"/>
<line x1="1443.4" y1="646.6" x2="1443.4" y2="668.8" stroke="#000" stroke-width="2.4"/>
<rect x="1454.85" y="697.3" width="17.1" height="61.4" fill="url(#hatch)" stroke="#8c8c8c" stroke-width="2.5"/>
<line x1="1463.3" y1="684" x2="1463.3" y2="708.6" stroke="#000" stroke-width="2.4"/>
<line x1="1483.2" y1="744.2" x2="1483.2" y2="781.1" stroke="#000" stroke-width="2.4"/>
<rect x="1474.45" y="758.7" width="17.6" height="1.6" fill="#3c3c3c" stroke="#000" stroke-width="2.5"/>
<rect x="1523.55" y="681.1" width="18" height="77.6" fill="#fff" stroke="#000" stroke-width="2.5"/>
<line x1="1532.6" y1="670.3" x2="1532.6" y2="688.7" stroke="#000" stroke-width="2.4"/>
<rect x="1544.05" y="733.9" width="17.1" height="24.8" fill="url(#hatch)" stroke="#8c8c8c" stroke-width="2.5"/>
<line x1="1552.5" y1="719.3" x2="1552.5" y2="747.2" stroke="#000" stroke-width="2.4"/>
<line x1="1572.4" y1="760" x2="1572.4" y2="771.6" stroke="#000" stroke-width="2.4"/>
<rect x="1563.65" y="758.7" width="17.6" height="5.9" fill="#3c3c3c" stroke="#000" stroke-width="2.5"/>
<line x1="1133.6" y1="758.7" x2="1592.3" y2="758.7" stroke="#000" stroke-width="3.6"/>
<line x1="1145.6" y1="519.15" x2="1145.6" y2="820.05" stroke="#000" stroke-width="3.9"/>
<line x1="1133.6" y1="818.1" x2="1594" y2="818.1" stroke="#000" stroke-width="3.9"/>
<line x1="1133.6" y1="521.1" x2="1145.6" y2="521.1" stroke="#000" stroke-width="3.9"/>
<text x="1131.6" y="529.1" font-size="24" text-anchor="end" textLength="22.5" lengthAdjust="spacingAndGlyphs">80</text>
<line x1="1133.6" y1="580.5" x2="1145.6" y2="580.5" stroke="#000" stroke-width="3.9"/>
<text x="1131.6" y="588.5" font-size="24" text-anchor="end" textLength="22.5" lengthAdjust="spacingAndGlyphs">60</text>
<line x1="1133.6" y1="639.9" x2="1145.6" y2="639.9" stroke="#000" stroke-width="3.9"/>
<text x="1131.6" y="647.9" font-size="24" text-anchor="end" textLength="22.5" lengthAdjust="spacingAndGlyphs">40</text>
<line x1="1133.6" y1="699.3" x2="1145.6" y2="699.3" stroke="#000" stroke-width="3.9"/>
<text x="1131.6" y="707.3" font-size="24" text-anchor="end" textLength="22.5" lengthAdjust="spacingAndGlyphs">20</text>
<text x="1131.6" y="766.7" font-size="24" text-anchor="end" textLength="11.25" lengthAdjust="spacingAndGlyphs">0</text>
<text x="1131.6" y="826.1" font-size="24" text-anchor="end" textLength="29.99" lengthAdjust="spacingAndGlyphs">-20</text>
<line x1="1195" y1="818.1" x2="1195" y2="830.6" stroke="#000" stroke-width="3.9"/>
<text transform="translate(1202.9 849.7) rotate(-45)" font-size="22.2" text-anchor="end" textLength="95.15" lengthAdjust="spacingAndGlyphs">1.25 µg/ml</text>
<line x1="1284.2" y1="818.1" x2="1284.2" y2="830.6" stroke="#000" stroke-width="3.9"/>
<text transform="translate(1292.1 849.7) rotate(-45)" font-size="22.2" text-anchor="end" textLength="84.36" lengthAdjust="spacingAndGlyphs">0.6 µg/ml</text>
<line x1="1373.4" y1="818.1" x2="1373.4" y2="830.6" stroke="#000" stroke-width="3.9"/>
<text transform="translate(1381.3 849.7) rotate(-45)" font-size="22.2" text-anchor="end" textLength="84.36" lengthAdjust="spacingAndGlyphs">0.3 µg/ml</text>
<line x1="1462.6" y1="818.1" x2="1462.6" y2="830.6" stroke="#000" stroke-width="3.9"/>
<text transform="translate(1470.5 849.7) rotate(-45)" font-size="22.2" text-anchor="end" textLength="84.36" lengthAdjust="spacingAndGlyphs">0.1 µg/ml</text>
<line x1="1551.8" y1="818.1" x2="1551.8" y2="830.6" stroke="#000" stroke-width="3.9"/>
<text transform="translate(1559.7 849.7) rotate(-45)" font-size="22.2" text-anchor="end" textLength="95.15" lengthAdjust="spacingAndGlyphs">0.07 µg/ml</text>
<path d="M1171.7 526V518.3H1194V638.3" fill="none" stroke="#000" stroke-width="2.5" stroke-linejoin="round" stroke-linecap="round"/>
<text x="1183.05" y="513.4" font-size="22" font-weight="bold" text-anchor="middle" textLength="28.5" lengthAdjust="spacingAndGlyphs">***</text>
<path d="M1262.8 524.9V517.2H1285.1V637.2" fill="none" stroke="#000" stroke-width="2.5" stroke-linejoin="round" stroke-linecap="round"/>
<text x="1273.95" y="511.8" font-size="22" font-weight="bold" text-anchor="middle" textLength="28.5" lengthAdjust="spacingAndGlyphs">***</text>
<path d="M1350.3 525.3V517.6H1372.6V637.6" fill="none" stroke="#000" stroke-width="2.5" stroke-linejoin="round" stroke-linecap="round"/>
<text x="1360.55" y="512.9" font-size="22" font-weight="bold" text-anchor="middle" textLength="28.5" lengthAdjust="spacingAndGlyphs">***</text>
<path d="M1439.9 524.5V516.8H1462.2V636.8" fill="none" stroke="#000" stroke-width="2.5" stroke-linejoin="round" stroke-linecap="round"/>
<text x="1450.85" y="511.5" font-size="22" font-weight="bold" text-anchor="middle" textLength="19" lengthAdjust="spacingAndGlyphs">**</text>
<path d="M1528.4 524.9V517.2H1550.7V637.2" fill="none" stroke="#000" stroke-width="2.5" stroke-linejoin="round" stroke-linecap="round"/>
<text x="1539.55" y="511.9" font-size="22" font-weight="bold" text-anchor="middle" textLength="28.5" lengthAdjust="spacingAndGlyphs">***</text>
</g>
<g>
<rect x="1603.15" y="30.15" width="362.5" height="152" rx="1.5" fill="#fff" stroke="#000" stroke-width="3.7"/>
<rect x="1620.3" y="67.9" width="25.9" height="11.3" fill="#fff" stroke="#000" stroke-width="2.6"/>
<text x="1663" y="79.9" font-size="23" textLength="221.83" lengthAdjust="spacingAndGlyphs">Pterostilbene PLGA-NPs</text>
<rect x="1620.3" y="104" width="25.9" height="10.9" fill="url(#hatchL)" stroke="#8c8c8c" stroke-width="2.6"/>
<text x="1663" y="116.1" font-size="23" textLength="115.72" lengthAdjust="spacingAndGlyphs">Pterostilbene</text>
<rect x="1620.3" y="139.4" width="25.9" height="11.1" fill="#3c3c3c" stroke="#000" stroke-width="2.6"/>
<text x="1663" y="151.7" font-size="23" textLength="121.22" lengthAdjust="spacingAndGlyphs">Nanoparticles</text>
</g>
<g>
<rect x="1611.65" y="495.65" width="362.8" height="151.5" rx="1.5" fill="#fff" stroke="#000" stroke-width="3.7"/>
<rect x="1628.6" y="533.3" width="25.8" height="11.6" fill="#fff" stroke="#000" stroke-width="2.6"/>
<text x="1671.5" y="545.9" font-size="23" textLength="203.51" lengthAdjust="spacingAndGlyphs">Fluopyram PLGA-NPs</text>
<rect x="1628.6" y="568.9" width="25.8" height="11.4" fill="url(#hatchL)" stroke="#8c8c8c" stroke-width="2.6"/>
<text x="1671.5" y="581.5" font-size="23" textLength="94.82" lengthAdjust="spacingAndGlyphs">Fluopyram</text>
<rect x="1628.6" y="604.1" width="25.8" height="11.6" fill="#3c3c3c" stroke="#000" stroke-width="2.6"/>
<text x="1671.5" y="616.7" font-size="23" textLength="121.22" lengthAdjust="spacingAndGlyphs">Nanoparticles</text>
</g>
</svg>
</body>
</html>
